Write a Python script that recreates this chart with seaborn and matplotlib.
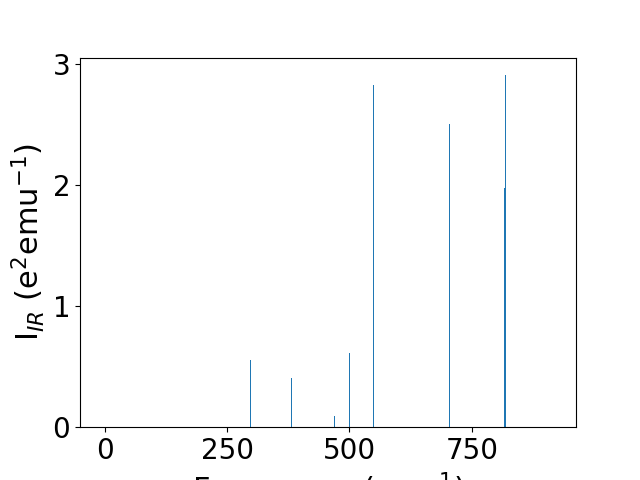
import numpy as np
import pandas as pd
import matplotlib
matplotlib.use("Agg")
import matplotlib.pyplot as plt
import seaborn as sns

# ----- DATA -----
freq = [298, 381, 469, 500, 549, 705, 816, 817.5, 819]          # cm^-1
intensity = [0.555, 0.405, 0.09, 0.617, 2.826, 2.51, 1.98, 1.98, 2.915]  # e^2 emu^-1

df = pd.DataFrame({"freq": freq, "intensity": intensity})

# ----- FIGURE -----
plt.rcParams["font.size"] = 20
fig, ax = plt.subplots(figsize=(6.4, 4.8), dpi=100)

sns.barplot(
    data=df,
    x="freq",
    y="intensity",
    native_scale=True,
    errorbar=None,
    color="#1f77b4",
    saturation=1,
    width=1.3,
    ax=ax,
)

ax.set_xlim(-50.5, 963)
ax.set_ylim(0, 3.055)
ax.set_xticks([0, 250, 500, 750])
ax.set_yticks([0, 1, 2, 3])
ax.tick_params(labelsize=20)
ax.set_xlabel(r"Frequency (cm$^{-1}$)", fontsize=22)
ax.set_ylabel(r"I$_{IR}$ (e$^2$emu$^{-1}$)", fontsize=22)

fig.savefig("out.png", dpi=100)
